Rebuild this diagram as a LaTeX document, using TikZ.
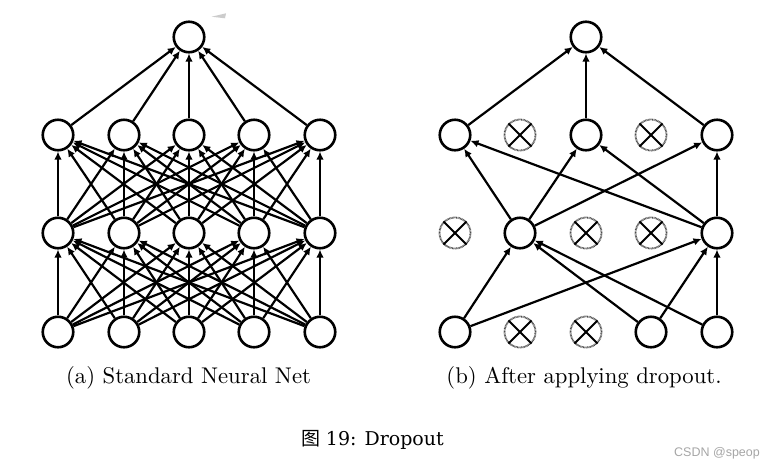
\documentclass[tikz,border=0pt]{standalone}
\usepackage{fontspec}
\usetikzlibrary{arrows.meta}
\newfontfamily\capfont{lmroman10-regular.otf}
\newfontfamily\cjkfont{Noto Sans CJK SC}
\newfontfamily\figfont{DejaVu Serif}
\newfontfamily\wmfont{Liberation Sans}
\begin{document}
\begin{tikzpicture}[x=1pt,y=-1pt,
  neuron/.style={circle,draw=black,line width=2.6pt,minimum size=30.5pt,inner sep=0pt,fill=white},
  dropped/.style={circle,draw=black!70,line width=1.8pt,dash pattern=on 0.8pt off 0.6pt,minimum size=31pt,inner sep=0pt,fill=white},
  crossline/.style={line width=2pt,black},
  conn/.style={line width=2.2pt,-{Latex[length=8pt,width=7.5pt]}},
  captext/.style={font=\capfont\fontsize{22.7}{27}\selectfont},
]
\useasboundingbox (0,0) rectangle (771,467);
\fill[white] (0,0) rectangle (771,467);
% small grey artefact
\fill[black!20] (211.7,16.7) -- (226,13.3) -- (225,18.3) -- cycle;

% ---------- (a) standard network ----------
\node[neuron] (at) at (189,37) {};
\foreach \i/\x in {1/58,2/124,3/189,4/254,5/320}{
  \node[neuron] (ah\i) at (\x,135) {};
  \node[neuron] (ag\i) at (\x,233) {};
  \node[neuron] (ai\i) at (\x,332) {};
}
\foreach \i in {1,...,5}{
  \draw[conn] (ah\i) -- (at);
  \foreach \j in {1,...,5}{
    \draw[conn] (ag\i) -- (ah\j);
    \draw[conn] (ai\i) -- (ag\j);
  }
}

% ---------- (b) after dropout ----------
\node[neuron] (bt) at (586,37) {};
\node[neuron]  (bh1) at (455,135) {};
\node[dropped] (bh2) at (520,135) {};
\node[neuron]  (bh3) at (586,135) {};
\node[dropped] (bh4) at (651,135) {};
\node[neuron]  (bh5) at (717,135) {};
\node[dropped] (bg1) at (455,233) {};
\node[neuron]  (bg2) at (520,233) {};
\node[dropped] (bg3) at (586,233) {};
\node[dropped] (bg4) at (651,233) {};
\node[neuron]  (bg5) at (717,233) {};
\node[neuron]  (bi1) at (455,332) {};
\node[dropped] (bi2) at (520,332) {};
\node[dropped] (bi3) at (586,332) {};
\node[neuron]  (bi4) at (651,332) {};
\node[neuron]  (bi5) at (717,332) {};
\foreach \n in {bh2,bh4,bg1,bg3,bg4,bi2,bi3}{
  \draw[crossline] (\n.north east) -- (\n.south west);
  \draw[crossline] (\n.north west) -- (\n.south east);
}
\foreach \i in {1,3,5}{ \draw[conn] (bh\i) -- (bt); }
\foreach \i in {2,5}{
  \foreach \j in {1,3,5}{ \draw[conn] (bg\i) -- (bh\j); }
}
\foreach \i in {1,4,5}{
  \foreach \j in {2,5}{ \draw[conn] (bi\i) -- (bg\j); }
}

% ---------- captions ----------
\node[captext] (capa) at (188.5,378) {(a) Standard Neural Net};
\node[captext] (capb) at (584,378) {(b) After applying dropout.};
\node[font=\fontsize{19}{23}\selectfont] (fig) at (372.5,440) {{\cjkfont 图} {\figfont 19: Dropout}};
\node[font=\wmfont\fontsize{12.5}{15}\selectfont,text=black!35] (wm) at (717,453) {CSDN @speop};
\end{tikzpicture}
\end{document}
